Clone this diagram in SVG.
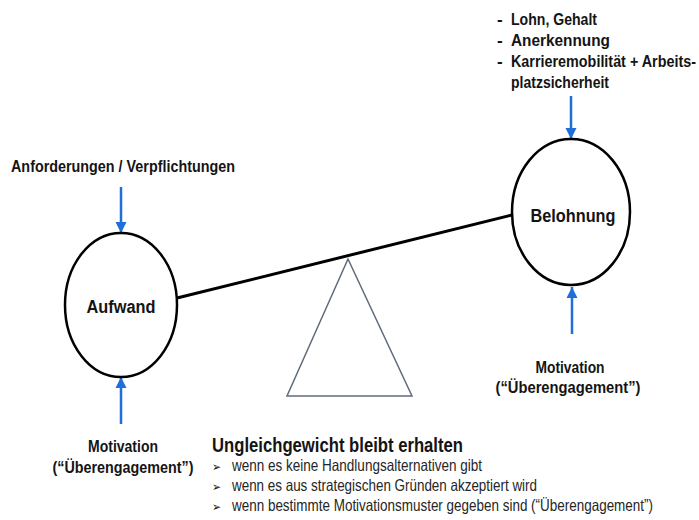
<svg xmlns="http://www.w3.org/2000/svg" width="699" height="520" viewBox="0 0 699 520">
<style>
  text { font-family: "Liberation Sans", Arial, sans-serif; fill: #141414; }
  .b { font-weight: bold; font-size: 17px; }
  .node { font-weight: bold; font-size: 18px; }
  .title { font-weight: bold; font-size: 20px; }
  .r { font-size: 16.5px; fill: #262626; }
  .bul { font-family: "DejaVu Sans", sans-serif; font-size: 12px; fill: #141414; }
  .ell { fill: #ffffff; stroke: #000000; stroke-width: 2.5; }
  .arr { stroke: #1f6fd8; stroke-width: 2.5; fill: none; marker-end: url(#ah); }
  .beam { stroke: #000000; stroke-width: 3; fill: none; }
  .tri { fill: none; stroke: #5f6b7a; stroke-width: 1.5; stroke-linejoin: miter; }
</style>
<defs>
  <marker id="ah" viewBox="0 0 10 10" refX="10" refY="5" markerUnits="userSpaceOnUse" markerWidth="11" markerHeight="13" orient="auto">
    <path d="M0,0 L10,5 L0,10 z" fill="#1f6fd8"/>
  </marker>
</defs>
<rect width="699" height="520" fill="#ffffff"/>

<g id="fulcrum">
  <polygon class="tri" points="348,259 287,396 412,396"/>
</g>

<g id="connectors">
  <line class="beam" x1="177" y1="298" x2="512" y2="215"/>
  <line class="arr" x1="121" y1="187" x2="121" y2="233"/>
  <line class="arr" x1="121" y1="424" x2="121" y2="377"/>
  <line class="arr" x1="571" y1="96" x2="571" y2="139"/>
  <line class="arr" x1="572" y1="334" x2="572" y2="287"/>
</g>

<g id="node-aufwand">
  <ellipse class="ell" cx="121" cy="305" rx="56" ry="72"/>
  <text class="node" x="121" y="313" text-anchor="middle" textLength="69" lengthAdjust="spacingAndGlyphs">Aufwand</text>
</g>

<g id="node-belohnung">
  <ellipse class="ell" cx="571" cy="212" rx="59" ry="73"/>
  <text class="node" x="573" y="222" text-anchor="middle" textLength="85" lengthAdjust="spacingAndGlyphs">Belohnung</text>
</g>

<g id="label-anforderungen">
  <text class="b" x="11" y="172" textLength="224" lengthAdjust="spacingAndGlyphs">Anforderungen / Verpflichtungen</text>
</g>

<g id="label-belohnung-list">
  <text class="b" x="497" y="25">-</text>
  <text class="b" x="511" y="25" textLength="86" lengthAdjust="spacingAndGlyphs">Lohn, Gehalt</text>
  <text class="b" x="497" y="46">-</text>
  <text class="b" x="511" y="46" textLength="99" lengthAdjust="spacingAndGlyphs">Anerkennung</text>
  <text class="b" x="497" y="67">-</text>
  <text class="b" x="511" y="67" textLength="185" lengthAdjust="spacingAndGlyphs">Karrieremobilität + Arbeits-</text>
  <text class="b" x="511" y="88" textLength="98" lengthAdjust="spacingAndGlyphs">platzsicherheit</text>
</g>

<g id="label-motivation-right">
  <text class="b" x="570" y="373" text-anchor="middle" textLength="69" lengthAdjust="spacingAndGlyphs">Motivation</text>
  <text class="b" x="568" y="393" text-anchor="middle" textLength="145" lengthAdjust="spacingAndGlyphs">(“Überengagement”)</text>
</g>

<g id="label-motivation-left">
  <text class="b" x="123" y="452" text-anchor="middle" textLength="70" lengthAdjust="spacingAndGlyphs">Motivation</text>
  <text class="b" x="123" y="473" text-anchor="middle" textLength="141" lengthAdjust="spacingAndGlyphs">(“Überengagement”)</text>
</g>

<g id="label-ungleichgewicht">
  <text class="title" x="212" y="452" textLength="251" lengthAdjust="spacingAndGlyphs">Ungleichgewicht bleibt erhalten</text>
  <text class="bul" x="212" y="471" textLength="9" lengthAdjust="spacingAndGlyphs">➢</text>
  <text class="r" x="232" y="471" textLength="250" lengthAdjust="spacingAndGlyphs">wenn es keine Handlungsalternativen gibt</text>
  <text class="bul" x="212" y="491" textLength="9" lengthAdjust="spacingAndGlyphs">➢</text>
  <text class="r" x="232" y="491" textLength="305" lengthAdjust="spacingAndGlyphs">wenn es aus strategischen Gründen akzeptiert wird</text>
  <text class="bul" x="212" y="511" textLength="9" lengthAdjust="spacingAndGlyphs">➢</text>
  <text class="r" x="232" y="511" textLength="421" lengthAdjust="spacingAndGlyphs">wenn bestimmte Motivationsmuster gegeben sind (“Überengagement”)</text>
</g>
</svg>
